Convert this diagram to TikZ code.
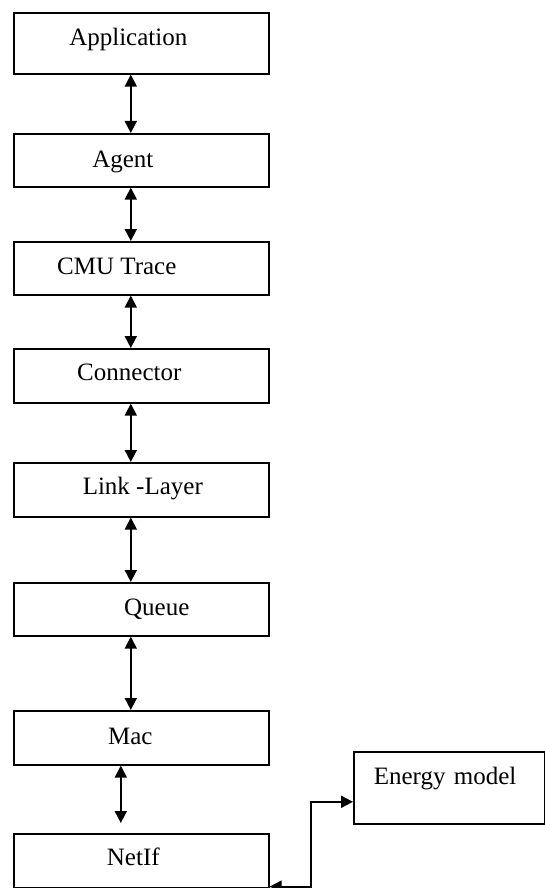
\documentclass[tikz,border=0pt]{standalone}
\usepackage{fontspec}
\setmainfont{Liberation Serif}
\usetikzlibrary{arrows.meta}

\begin{document}
\begin{tikzpicture}[
    x=1pt, y=-1pt,
    >={Triangle[length=12pt,width=12pt]},
    every node/.style={font=\fontsize{25}{30}\selectfont},
    layer/.style={draw, line width=1.6pt, anchor=north west, inner sep=0pt,
        minimum width=255pt, text height=33pt, text depth=20pt},
    link/.style={<->, line width=1.8pt}
]
\useasboundingbox (0,0) rectangle (545,888);

% Stack of layers
\node[layer, text depth=28pt] (app) at (13,12) {\hspace*{-26pt}Application};
\node[layer, text height=34pt, text depth=19pt] (agent) at (13,133) {\hspace*{-37pt}Agent};
\node[layer] (cmu) at (13,241) {\hspace*{-49pt}CMU Trace};
\node[layer, text height=32pt, text depth=22pt] (conn) at (13,348) {\hspace*{-24pt}Connector};
\node[layer, text height=32pt, text depth=22pt] (ll) at (13,462) {\hspace*{3pt}Link -Layer};
\node[layer] (queue) at (13,582) {\hspace*{31pt}Queue};
\node[layer, text height=34pt] (mac) at (13,710) {\hspace*{-22pt}Mac};
\node[layer, text height=32pt, text depth=22pt] (netif) at (13,833) {\hspace*{-16pt}NetIf};

% Energy model
\node[draw, line width=1.6pt, anchor=north west, inner xsep=20pt, inner ysep=0pt,
    text width=151pt, align=left, text height=33pt, text depth=39pt]
    (energy) at (353,751) {Energy model};

% Links between layers
\draw[link] ([xshift=-10.5pt]app.south) -- ([xshift=-10.5pt]agent.north);
\draw[link] ([xshift=-10.5pt]agent.south) -- ([xshift=-10.5pt]cmu.north);
\draw[link] ([xshift=-10.5pt]cmu.south) -- ([xshift=-10.5pt]conn.north);
\draw[link] ([xshift=-10.5pt]conn.south) -- ([xshift=-10.5pt]ll.north);
\draw[link] ([xshift=-10.5pt]ll.south) -- ([xshift=-10.5pt]queue.north);
\draw[link] ([xshift=-10.5pt]queue.south) -- ([xshift=-10.5pt]mac.north);
\draw[link, shorten >=10pt] ([xshift=-20.5pt]mac.south) -- ([xshift=-20.5pt]netif.north);

% NetIf to energy model
\draw[link] ([yshift=2pt]netif.south east) -- ++(41,0) |- ([yshift=-14pt]energy.west);
\end{tikzpicture}
\end{document}
